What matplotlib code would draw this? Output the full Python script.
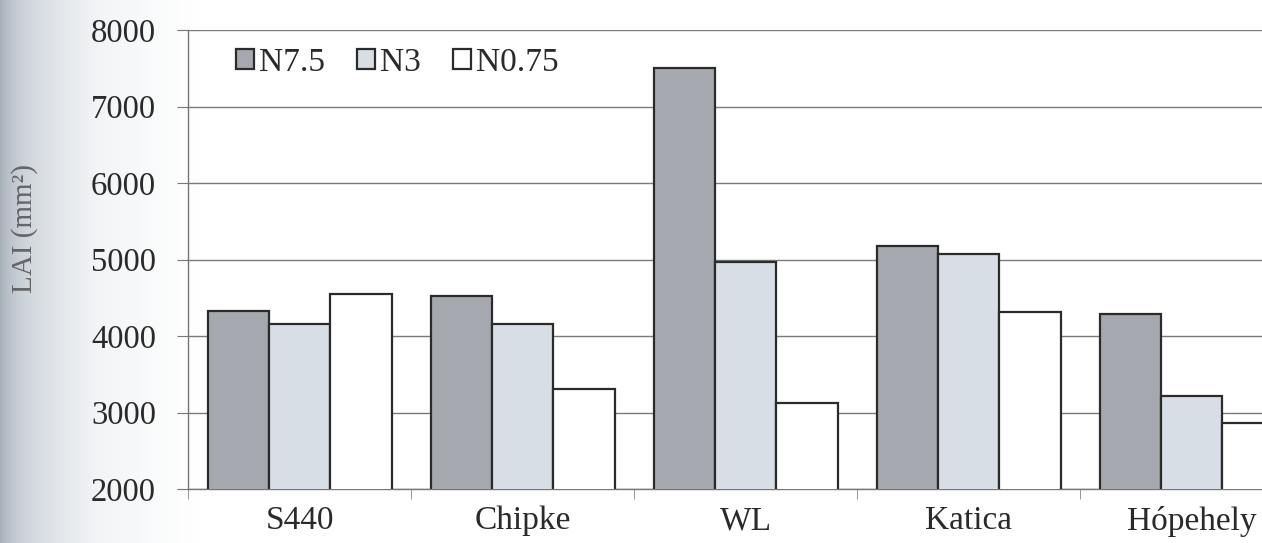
import numpy as np
import matplotlib.pyplot as plt
from matplotlib.colors import LinearSegmentedColormap

plt.rcParams['font.family'] = ['Liberation Serif', 'DejaVu Serif']

# data
cultivars = ['S440', 'Chipke', 'WL', 'Katica', 'Hópehely']
series_names = ['N7.5', 'N3', 'N0.75']
n75 = [4330, 4520, 7500, 5180, 4290]
n3 = [4160, 4160, 4970, 5070, 3210]
n075 = [4550, 3310, 3130, 4320, 2860]
y_ticks = [2000, 3000, 4000, 5000, 6000, 7000, 8000]

colors = ['#a6a8af', '#d8dee5', '#ffffff']

fig = plt.figure(figsize=(12.62, 5.43), dpi=100)
fig.patch.set_facecolor('white')

# grey scanner shading on the left edge only
bg = fig.add_axes([0, 0, 1, 1], zorder=-10)
grad = np.linspace(0, 1, 300).reshape(1, -1) ** 0.55
cmap = LinearSegmentedColormap.from_list('scan', ['#a3abb4', '#d0d6dc', '#f2f4f6', '#ffffff'])
bg.imshow(grad, aspect='auto', cmap=cmap, extent=[0, 0.16, 0, 1])
bg.set_xlim(0, 1)
bg.set_ylim(0, 1)
bg.axis('off')

ax = fig.add_axes([0.149, 0.0994, 0.8835, 0.8453])
ax.set_facecolor('none')

x = np.arange(len(cultivars))
w = 0.275
for i, (vals, name) in enumerate(zip([n75, n3, n075], series_names)):
    ax.bar(x + (i - 1) * w, vals, width=w, bottom=0, color=colors[i],
           edgecolor='#2b2b2b', linewidth=1.6, label=name, zorder=3)

ax.set_ylim(2000, 8000)
ax.set_xlim(-0.5, len(cultivars) - 0.5)
ax.set_yticks(y_ticks)
ax.set_yticklabels([str(v) for v in y_ticks], fontsize=23.5, color='#2a2a2a')
ax.yaxis.grid(True, color='#7a7a7a', linewidth=1.0, zorder=0)
ax.set_axisbelow(True)

ax.set_xticks(x)
ax.set_xticklabels(cultivars, fontsize=24, color='#2a2a2a')
ax.set_xticks(np.arange(len(cultivars) + 1) - 0.5, minor=True)
ax.tick_params(axis='x', which='major', length=0, pad=12)
ax.tick_params(axis='x', which='minor', length=7, color='#888888', direction='out')
ax.tick_params(axis='y', length=8, color='#777777', pad=15)

for s in ['top', 'right']:
    ax.spines[s].set_visible(False)
for s in ['left', 'bottom']:
    ax.spines[s].set_color('#777777')
    ax.spines[s].set_linewidth(1.0)

fig.text(25 / 1262, 0.58, 'LAI (mm²)', rotation=90, fontsize=21,
         color='#4a4a4a', ha='center', va='center', alpha=0.8)

leg = ax.legend(loc='upper left', ncol=3, frameon=False, fontsize=24,
                handlelength=0.55, handleheight=0.55, handletextpad=0.15,
                columnspacing=0.95, bbox_to_anchor=(0.025, 1.005), borderaxespad=0.2)
for t in leg.get_texts():
    t.set_color('#2a2a2a')

fig.savefig('out.png', dpi=100)
